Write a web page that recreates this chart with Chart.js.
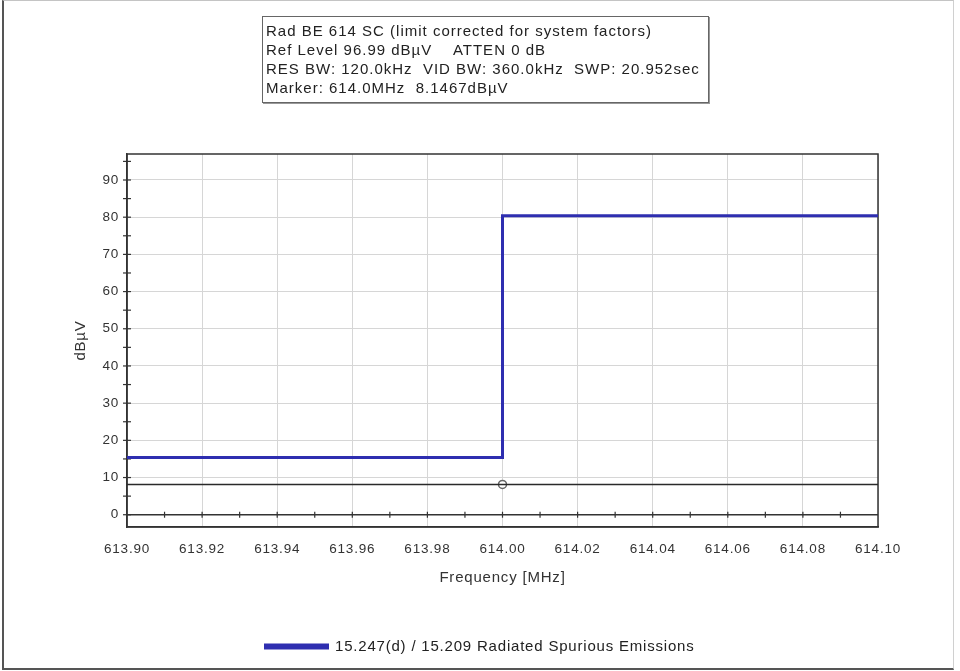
<!DOCTYPE html>
<html>
<head>
<meta charset="utf-8">
<script src="https://cdn.jsdelivr.net/npm/chart.js@4.4.1/dist/chart.umd.min.js"></script>
<style>
  html, body { margin: 0; padding: 0; background: #fff; }
  #wrap { position: relative; width: 960px; height: 671px; }
  #frame {
    position: absolute; left: 2px; top: 0; width: 949px; height: 667px;
    border-left: 2px solid #555; border-bottom: 2px solid #555;
    border-top: 1px solid #c4c4c4; border-right: 1px solid #d0d0d0;
    pointer-events: none;
  }
  #info {
    position: absolute; left: 262px; top: 16px; width: 442px;
    border: 1px solid #666; box-shadow: 1px 1px 0 #999;
    padding: 4px 0 5px 3px; background: #fff;
    font: 15px "Liberation Sans", Arial, sans-serif; letter-spacing: 1px;
    line-height: 19px; color: #222; white-space: nowrap;
  }
</style>
</head>
<body>
<div id="wrap">
  <canvas id="scan" width="960" height="671"></canvas>
  <div id="info">
    <div>Rad BE 614 SC (limit corrected for system factors)</div>
    <div>Ref Level 96.99 dBµV&nbsp;&nbsp;&nbsp;&nbsp;ATTEN 0 dB</div>
    <div>RES BW: 120.0kHz&nbsp;&nbsp;VID BW: 360.0kHz&nbsp;&nbsp;SWP: 20.952sec</div>
    <div>Marker: 614.0MHz&nbsp;&nbsp;8.1467dBµV</div>
  </div>
  <div id="frame"></div>
</div>
<script>
// limit line (stepped), marker level and axis ticks
const limitFreq = [613.90, 614.00, 614.10];
const limitLevel = [15.4, 80.4, 80.4];
const markerFreq = 614.00;
const markerLevel = 8.1467;
const refLevel = 96.99;
const yMin = -3.3;
const xTicks = [613.90, 613.92, 613.94, 613.96, 613.98, 614.00, 614.02, 614.04, 614.06, 614.08, 614.10];
const yTicks = [0, 10, 20, 30, 40, 50, 60, 70, 80, 90];
const xMinorStep = 0.01;
const yMinorStep = 5;

const limitColor = '#2e2eb0';
const axisColor = '#333';
const gridColor = '#d6d6d6';
const family = '"Liberation Sans", Arial, sans-serif';
const tickFont = { family: family, size: 13.5 };
const textFont = { family: family, size: 15 };

// the analyser font runs a little wide
const spacing = {
  id: 'spacing',
  beforeLayout(chart) { chart.ctx.letterSpacing = '0.8px'; },
  beforeDraw(chart) { chart.ctx.letterSpacing = '0.8px'; }
};

// frame, zero line and the small tick crosses on the axes
const axisMarks = {
  id: 'axisMarks',
  beforeDatasetsDraw(chart) {
    const { ctx, chartArea: a, scales: { x, y } } = chart;
    ctx.save();
    ctx.strokeStyle = axisColor;
    ctx.lineWidth = 1.5;
    const y0 = y.getPixelForValue(0);
    ctx.beginPath();
    ctx.moveTo(a.left, y0);
    ctx.lineTo(a.right, y0);
    ctx.stroke();
    ctx.lineWidth = 1.2;
    const nx = Math.round((x.max - x.min) / xMinorStep);
    for (let i = 1; i < nx; i++) {
      const px = x.getPixelForValue(x.min + i * xMinorStep);
      ctx.beginPath();
      ctx.moveTo(px, y0 - 3);
      ctx.lineTo(px, y0 + 3);
      ctx.stroke();
    }
    for (let v = 0; v < y.max; v += yMinorStep) {
      const py = y.getPixelForValue(v);
      ctx.beginPath();
      ctx.moveTo(a.left - 4, py);
      ctx.lineTo(a.left + 4, py);
      ctx.stroke();
    }
    ctx.lineWidth = 1.5;
    ctx.strokeRect(a.left, a.top, a.right - a.left, a.bottom - a.top);
    ctx.restore();
  }
};

new Chart(document.getElementById('scan'), {
  type: 'line',
  data: {
    datasets: [
      {
        label: '15.247(d) / 15.209 Radiated Spurious Emissions',
        data: limitFreq.map((f, i) => ({ x: f, y: limitLevel[i] })),
        borderColor: limitColor,
        backgroundColor: limitColor,
        borderWidth: 3,
        stepped: 'before',
        pointRadius: 0
      },
      {
        label: 'marker level',
        data: [{ x: limitFreq[0], y: markerLevel }, { x: limitFreq[limitFreq.length - 1], y: markerLevel }],
        borderColor: '#2a2a2a',
        borderWidth: 1.5,
        pointRadius: 0
      },
      {
        label: 'marker',
        data: [{ x: markerFreq, y: markerLevel }],
        showLine: false,
        pointStyle: 'circle',
        pointRadius: 4,
        pointBorderWidth: 1.5,
        pointBorderColor: '#666',
        pointBackgroundColor: '#fff'
      }
    ]
  },
  options: {
    responsive: false,
    animation: false,
    layout: { padding: { left: 82, right: 82, top: 154, bottom: 7 } },
    plugins: {
      tooltip: { enabled: false },
      legend: {
        position: 'bottom',
        labels: {
          filter: (item) => item.datasetIndex === 0,
          boxWidth: 62,
          boxHeight: 3,
          padding: 10,
          color: '#222',
          font: textFont
        }
      }
    },
    scales: {
      x: {
        type: 'linear',
        min: xTicks[0],
        max: xTicks[xTicks.length - 1],
        afterBuildTicks: (s) => { s.ticks = xTicks.map(v => ({ value: v })); },
        afterFit: (s) => { s.height = 102; },
        grid: { color: gridColor, drawTicks: false },
        border: { color: axisColor, width: 1.5 },
        ticks: { padding: 14, color: '#333', font: tickFont, maxRotation: 0, callback: (v) => v.toFixed(2) },
        title: { display: true, text: 'Frequency [MHz]', color: '#333', font: textFont, padding: { bottom: 42 } }
      },
      y: {
        min: yMin,
        max: refLevel,
        afterBuildTicks: (s) => { s.ticks = yTicks.map(v => ({ value: v })); },
        afterFit: (s) => { s.width = 45; },
        grid: { color: gridColor, drawTicks: false },
        border: { color: axisColor, width: 1.5 },
        ticks: { padding: 8, color: '#333', font: tickFont },
        title: { display: true, text: 'dBµV', color: '#333', font: textFont, padding: { top: -10 } }
      }
    }
  },
  plugins: [spacing, axisMarks]
});
</script>
</body>
</html>
